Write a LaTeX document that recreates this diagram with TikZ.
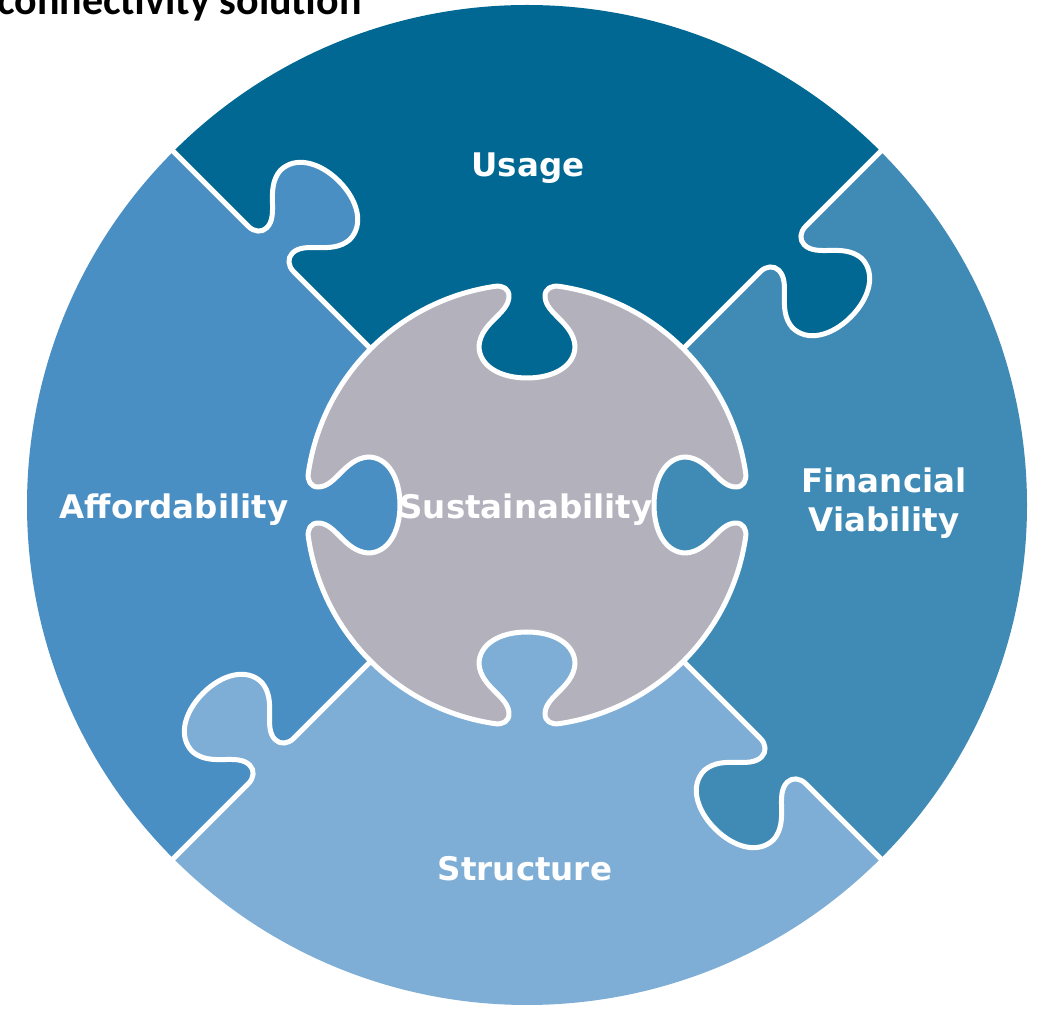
\documentclass[tikz,border=0pt]{standalone}
\usepackage{fontspec}
\newfontfamily\labfont{DejaVu Sans}
\newfontfamily\titlefont{Carlito}
\definecolor{usage}{HTML}{006892}
\definecolor{afford}{HTML}{4A8FC3}
\definecolor{finan}{HTML}{3F8BB6}
\definecolor{struct}{HTML}{7EAED5}
\definecolor{sust}{HTML}{B3B1BC}
\tikzset{
  gap/.style={draw=white, line width=5pt, line join=round},
  lab/.style={text=white, inner sep=0pt, anchor=base,
    font=\labfont\bfseries\fontsize{32.5}{39}\selectfont}
}
\begin{document}
\begin{tikzpicture}[x=1pt,y=1pt]
\useasboundingbox (0,0) rectangle (1043,1009);
\coordinate (C) at (527,504);
% outer quadrants
\begin{scope}[shift={(C)}]
  \fill[usage]  (0,0) -- (45:500)  arc[start angle=45,  end angle=135, radius=500] -- cycle;
  \fill[afford] (0,0) -- (135:500) arc[start angle=135, end angle=225, radius=500] -- cycle;
  \fill[struct] (0,0) -- (225:500) arc[start angle=225, end angle=315, radius=500] -- cycle;
  \fill[finan]  (0,0) -- (315:500) arc[start angle=315, end angle=405, radius=500] -- cycle;
\end{scope}
% knobs on the dividers
\foreach \t/\col in {45/usage,135/afford,225/struct,315/finan}{
  \begin{scope}[shift={(C)},rotate=\t]
    \fill[\col] (330,0) .. controls (338,0) and (344,-5) .. (344,-12)
      .. controls (344,-30) and (315,-38) .. (313,-62)
      .. controls (313,-83) and (335,-96) .. (362,-96)
      .. controls (389,-96) and (411,-83) .. (411,-62)
      .. controls (409,-38) and (380,-30) .. (380,-12)
      .. controls (380,-5) and (386,0) .. (394,0)
      -- (394,6) -- (330,6) -- cycle;
    \draw[gap] (210,0) -- (330,0) .. controls (338,0) and (344,-5) .. (344,-12)
      .. controls (344,-30) and (315,-38) .. (313,-62)
      .. controls (313,-83) and (335,-96) .. (362,-96)
      .. controls (389,-96) and (411,-83) .. (411,-62)
      .. controls (409,-38) and (380,-30) .. (380,-12)
      .. controls (380,-5) and (386,0) .. (394,0) -- (510,0);
  \end{scope}
}
% central piece
\begin{scope}[shift={(C)}]
  \path[fill=sust, gap] (32,218.67)
    \foreach \r in {0,90,180,270}{
      .. controls ([rotate=\r]24.1,219.83) and ([rotate=\r]18,216) .. ([rotate=\r]18,209)
      .. controls ([rotate=\r]18,191) and ([rotate=\r]46,183) .. ([rotate=\r]48,159)
      .. controls ([rotate=\r]48,139) and ([rotate=\r]27,127) .. ([rotate=\r]0,127)
      .. controls ([rotate=\r]-27,127) and ([rotate=\r]-48,139) .. ([rotate=\r]-48,159)
      .. controls ([rotate=\r]-46,183) and ([rotate=\r]-18,191) .. ([rotate=\r]-18,209)
      .. controls ([rotate=\r]-18,216) and ([rotate=\r]-24.1,219.83) .. ([rotate=\r]-32,218.67)
      arc[start angle=\r+98.32, end angle=\r+171.68, radius=221]
    } -- cycle;
\end{scope}
% labels
\node[lab] (usage) at (528,832) {Usage};
\node[lab] (afford) at (174,490) {Affordability};
\node[lab] (sust) at (526,490) {Sustainability};
\node[lab, align=center] (finan) at (884,477) {Financial\\Viability};
\node[lab] (struct) at (525,129) {Structure};
\node[anchor=base west, inner sep=0pt,
  font=\titlefont\bfseries\fontsize{42}{42}\selectfont] (title) at (-3,994) {connectivity solution};
\end{tikzpicture}
\end{document}
